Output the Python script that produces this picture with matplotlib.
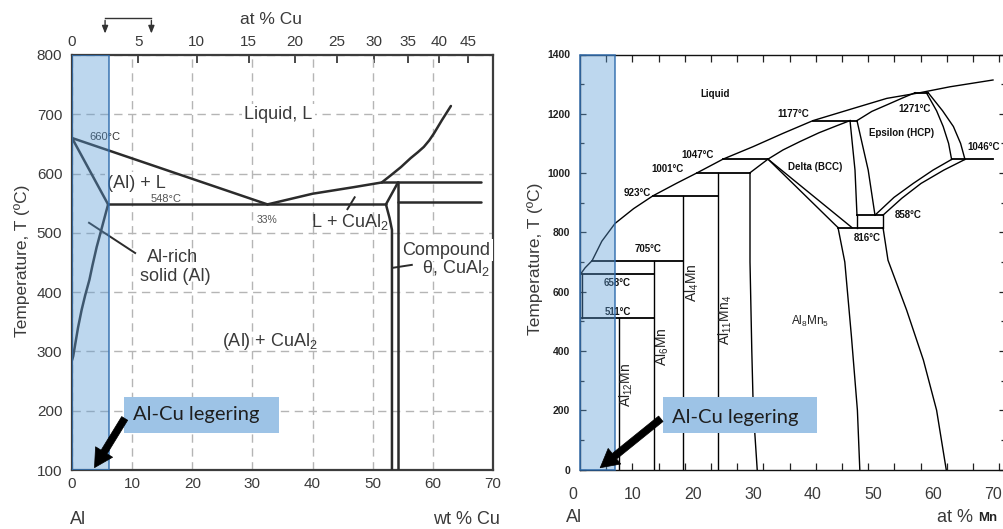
import numpy as np
import matplotlib
matplotlib.use("Agg")
import matplotlib.pyplot as plt
from matplotlib.patches import Rectangle
import matplotlib.transforms as mtransforms

plt.rcParams['font.family'] = ['Liberation Sans', 'DejaVu Sans']
plt.rcParams['mathtext.fontset'] = 'custom'
plt.rcParams['mathtext.rm'] = 'Liberation Sans'
plt.rcParams['mathtext.it'] = 'Liberation Sans:italic'
plt.rcParams['mathtext.bf'] = 'Liberation Sans:bold'

# ================= DATA : Al-Cu (wt % Cu, deg C) =================
cu_liq_left_wt = [0, 32.5]
cu_liq_left_T = [660, 548]
cu_solidus_wt = [0, 6.0]
cu_solidus_T = [660, 548]
cu_solvus_wt = [6.0, 5.0, 4.1, 3.4, 2.9, 2.2, 1.6, 1.0, 0.5, 0.2, 0.0]
cu_solvus_T = [548, 510, 476, 445, 421, 395, 370, 340, 310, 292, 285]
cu_eutectic_wt = [6.0, 52.2]
cu_eutectic_T = [548, 548]
cu_liq_right_wt = [32.5, 40.0, 46.8, 51.5]
cu_liq_right_T = [548, 566, 577, 585]
cu_liq_rise_wt = [51.5, 53.0, 54.7, 56.3, 57.5, 58.5, 59.4, 60.2, 61.5, 63.0]
cu_liq_rise_T = [585, 597, 611, 626, 636, 645, 656, 668, 690, 714]
cu_upper_line_wt = [51.5, 68.0]
cu_upper_line_T = [585, 585]
cu_lower_line_wt = [54.2, 68.0]
cu_lower_line_T = [552, 552]
cu_theta_left_wt = [54.2, 52.2, 52.8, 53.2, 53.2]
cu_theta_left_T = [585, 548, 525, 505, 100]
cu_theta_right_wt = [54.2, 54.2]
cu_theta_right_T = [585, 100]
cu_band_wt = 6.2
cu_top_ticks_at = [0, 5, 10, 15, 20, 25, 30, 35, 40, 45]
cu_xticks = [0, 10, 20, 30, 40, 50, 60, 70]
cu_yticks = [100, 200, 300, 400, 500, 600, 700, 800]

# ================= DATA : Al-Mn (axis label units, deg C) =================
mn_liq_x = [1.3, 2.0, 3.2, 4.8, 7.0, 10.1, 13.3, 17.3, 20.7, 25.0, 30.0, 35.0,
            40.0, 46.7, 52.3, 57.8, 62.8, 70.0]
mn_liq_T = [660, 680, 705, 770, 830, 880, 923, 966, 1001, 1047, 1089, 1134,
            1177, 1218, 1252, 1271, 1291, 1314]
iso_T = [658, 511, 705, 923, 1001, 1047, 1177, 1271, 1046, 858, 816]
iso_x0 = [1.5, 1.5, 3.2, 13.33, 20.67, 25.0, 40.0, 57.0, 63.1, 47.33, 44.17]
iso_x1 = [13.5, 13.5, 18.33, 24.17, 29.5, 32.5, 47.33, 59.2, 70.0, 51.67, 51.67]
comp_x = [1.5, 7.67, 13.5, 18.33, 24.17]
comp_Ttop = [658, 511, 705, 923, 1001]
comp_Tbot = [511, 0, 0, 0, 0]
mn_curves = {
    'al8mn5_left': ([29.5, 29.5, 29.8, 30.05, 30.7], [1001, 700, 400, 200, 0]),
    'link': ([29.5, 32.5], [1001, 1047]),
    'delta_top': ([32.5, 35.0, 37.8, 41.0, 44.0, 46.17], [1047, 1078, 1106, 1136, 1160, 1177]),
    'delta_right': ([46.17, 46.6, 47.0, 47.33], [1177, 1090, 1010, 858]),
    'eps_left': ([47.33, 48.3, 49.2, 50.33], [1177, 1090, 1010, 858]),
    'delta_low1': ([32.5, 44.17], [1047, 816]),
    'delta_low2': ([32.5, 46.5], [1047, 816]),
    'box_l': ([47.33, 47.33], [858, 816]),
    'box_r': ([51.67, 51.67], [858, 816]),
    'al8mn5_right': ([44.17, 45.3, 46.4, 47.4, 47.8], [816, 700, 450, 200, 0]),
    'gamma': ([51.67, 52.5, 55.6, 58.4, 60.6, 62.2], [816, 706, 538, 369, 200, 0]),
    'eps_low1': ([50.33, 53.5, 56.7, 60.0, 63.1], [858, 918, 965, 1010, 1046]),
    'eps_low2': ([51.67, 54.8, 58.0, 61.8, 65.33], [858, 915, 965, 1010, 1046]),
    'eps_top': ([47.33, 49.8, 52.3, 55.0, 57.0], [1177, 1208, 1230, 1254, 1271]),
    'eps_right1': ([58.9, 60.6, 61.7, 62.6, 63.1], [1271, 1210, 1157, 1100, 1046]),
    'eps_right2': ([59.2, 61.6, 63.4, 64.6, 65.33], [1271, 1210, 1157, 1100, 1046]),
}
mn_band_x = 7.0
mn_xlabels = [0, 10, 20, 30, 40, 50, 60, 70]
mn_yticks = [0, 200, 400, 600, 800, 1000, 1200, 1400]

# ================= FIGURE =================
W, H = 1004, 529
fig = plt.figure(figsize=(W / 100, H / 100), dpi=100)

def fpx(x, y):
    return x / W, 1 - y / H

TXT = '#3a3a3a'
LINE = '#2b2b2b'
BAND_FC = (0.357, 0.608, 0.835, 0.40)
BAND_EC = (0.18, 0.42, 0.68, 0.85)
BOX_FC = '#9dc3e6'

# ---------------- LEFT : Al-Cu ----------------
ax = fig.add_axes([72 / W, 1 - 470 / H, 421 / W, 415 / H])
ax.set_xlim(0, 70)
ax.set_ylim(100, 800)
ax.set_xticks(cu_xticks)
ax.set_yticks(cu_yticks)
ax.tick_params(length=0, labelsize=11, colors=TXT)
ax.tick_params(axis='x', pad=5)
ax.tick_params(axis='y', pad=7)
ax.grid(True, color='#b5b5b5', lw=1.0, ls=(0, (6, 4)))
ax.set_axisbelow(True)
for s in ax.spines.values():
    s.set_color('#3c3c3c')
    s.set_linewidth(1.6)

lw = 1.8
for xs, ts in [(cu_liq_left_wt, cu_liq_left_T), (cu_solidus_wt, cu_solidus_T),
               (cu_solvus_wt, cu_solvus_T), (cu_eutectic_wt, cu_eutectic_T),
               (cu_liq_right_wt, cu_liq_right_T), (cu_liq_rise_wt, cu_liq_rise_T),
               (cu_upper_line_wt, cu_upper_line_T), (cu_lower_line_wt, cu_lower_line_T),
               (cu_theta_left_wt, cu_theta_left_T), (cu_theta_right_wt, cu_theta_right_T)]:
    ax.plot(xs, ts, color=LINE, lw=lw, zorder=3, solid_capstyle='round', solid_joinstyle='round')

# leader lines
ax.plot([2.83, 10.5], [517, 466], color=LINE, lw=1.4, zorder=3)
ax.plot([45.8, 47.0], [540, 560], color=LINE, lw=1.4, zorder=3)
ax.plot([53.3, 56.5], [441, 446], color=LINE, lw=1.4, zorder=3)

wb = dict(facecolor='white', edgecolor='none', pad=1.5)
ax.text(34.3, 699, 'Liquid, L', fontsize=13, color=TXT, ha='center', va='center', bbox=wb, zorder=4)
ax.text(5.4, 662, '660°C', fontsize=8, color='#333', ha='center', va='center', zorder=4)
ax.text(10.7, 584, '(Al) + L', fontsize=13, color=TXT, ha='center', va='center', bbox=wb, zorder=4)
ax.text(15.7, 557, '548°C', fontsize=8, color='#555', ha='center', va='center', zorder=4)
ax.text(32.5, 522, '33%', fontsize=7.5, color='#555', ha='center', va='center', zorder=4)
ax.text(46.3, 518, 'L + CuAl$_2$', fontsize=13, color=TXT, ha='center', va='center', zorder=4)
ax.text(12.5, 459, 'Al-rich', fontsize=13, color=TXT, ha='left', va='center', zorder=4)
ax.text(11.3, 426, 'solid (Al)', fontsize=13, color=TXT, ha='left', va='center', zorder=4)
ax.text(69.6, 471, 'Compound', fontsize=13, color=TXT, ha='right', va='center', bbox=wb, zorder=4)
ax.text(69.4, 441, 'θ, CuAl$_2$', fontsize=13, color=TXT, ha='right', va='center', zorder=4)
ax.text(33.0, 316, '(Al) + CuAl$_2$', fontsize=13, color=TXT, ha='center', va='center', zorder=4)

ax.add_patch(Rectangle((0, 100), cu_band_wt, 700, facecolor=BAND_FC, edgecolor=BAND_EC, lw=1.2, zorder=5))
ax.add_patch(Rectangle((8.67, 163), 34.5 - 8.67, 223 - 163, facecolor=BOX_FC, edgecolor='none', zorder=6))
ax.text(10.2, 193, 'Al-Cu legering', fontsize=14.5, family='Lato', color='#1e1e1e',
        ha='left', va='center', zorder=7)
ax.annotate('', xy=(3.5, 100), xytext=(9.0, 191),
            arrowprops=dict(arrowstyle='simple,head_width=1.2,head_length=1.1,tail_width=0.42',
                            mutation_scale=12, fc='black', ec='black', lw=0.5),
            annotation_clip=False, zorder=8)

# top at% Cu axis
M_CU, M_AL = 63.55, 26.98

def wt2at(w):
    w = np.asarray(w, dtype=float)
    w = np.clip(w, 0.0, 99.999)
    a = (w / M_CU) / (w / M_CU + (100 - w) / M_AL)
    return a * 100

def at2wt(a):
    a = np.asarray(a, dtype=float)
    a = np.clip(a, 0.0, 99.999)
    w = a * M_CU / (a * M_CU + (100 - a) * M_AL)
    return w * 100

sec = ax.secondary_xaxis('top', functions=(wt2at, at2wt))
sec.set_xticks(cu_top_ticks_at)
sec.tick_params(direction='in', length=6, width=1.3, colors=TXT, labelsize=11, pad=4)
sec.spines['top'].set_visible(False)

# bracket above top axis
bt = mtransforms.blended_transform_factory(ax.transData, ax.transAxes)
ax.plot([5.5, 13.2], [1.089, 1.089], transform=bt, color='#333', lw=1.0, clip_on=False)
for bx in (5.5, 13.2):
    ax.annotate('', xy=(bx, 1.045), xytext=(bx, 1.090), xycoords=bt, textcoords=bt,
                arrowprops=dict(arrowstyle='-|>,head_width=0.18,head_length=0.45',
                                color='#333', lw=1.0), annotation_clip=False)

fig.text(*fpx(271, 20), 'at % Cu', fontsize=12.5, color=TXT, ha='center', va='center')
fig.text(*fpx(22, 261), 'Temperature, T (ºC)', fontsize=12.5, color=TXT, rotation=90,
         ha='center', va='center')
fig.text(*fpx(70, 519), 'Al', fontsize=13, color=TXT, ha='left', va='center')
fig.text(*fpx(433, 519), 'wt % Cu', fontsize=13, color=TXT, ha='left', va='center')

# ---------------- RIGHT : Al-Mn ----------------
ax2 = fig.add_axes([580 / W, 1 - 469.5 / H, 425 / W, 415 / H])
ax2.set_xlim(7 / 6, 72.0)
ax2.set_ylim(0, 1400)
native_ticks = [7 / 6 + k * 26.2 / 6 for k in range(1, 17)]
ax2.set_xticks(native_ticks)
ax2.set_xticklabels([])
ax2.tick_params(axis='x', direction='in', length=5, width=0.9, top=True, bottom=True, colors='#222')
ax2.set_yticks(mn_yticks)
ax2.set_yticks(list(range(100, 1400, 200)), minor=True)
ax2.tick_params(axis='y', which='major', direction='in', length=4, width=0.9,
                left=True, right=True, labelsize=7.5, colors='#222', pad=7)
ax2.tick_params(axis='y', which='minor', direction='in', length=3, width=0.9,
                left=True, right=True, colors='#222')
for lbl in ax2.get_yticklabels():
    lbl.set_fontweight('bold')
for s in ax2.spines.values():
    s.set_color('#111')
    s.set_linewidth(1.0)

mlw = 1.0
ax2.plot(mn_liq_x, mn_liq_T, color='black', lw=mlw, zorder=3)
for T, x0, x1 in zip(iso_T, iso_x0, iso_x1):
    ax2.plot([x0, x1], [T, T], color='black', lw=mlw * 1.3, zorder=3)
for x, t1, t0 in zip(comp_x, comp_Ttop, comp_Tbot):
    ax2.plot([x, x], [t1, t0], color='black', lw=mlw, zorder=3)
for name, (xs, ts) in mn_curves.items():
    ax2.plot(xs, ts, color='black', lw=mlw, zorder=3)

bkw = dict(fontsize=7, fontweight='bold', color='#111', ha='center', va='center', zorder=4)
ax2.text(23.67, 1267, 'Liquid', **bkw)
ax2.text(36.67, 1199, '1177°C', **bkw)
ax2.text(57.0, 1216, '1271°C', **bkw)
ax2.text(54.83, 1135, 'Epsilon (HCP)', **bkw)
ax2.text(65.67, 1088, '1046°C', **{**bkw, 'ha': 'left'})
ax2.text(20.83, 1061, '1047°C', **bkw)
ax2.text(15.67, 1014, '1001°C', **bkw)
ax2.text(40.33, 1020, 'Delta (BCC)', **bkw)
ax2.text(10.67, 933, '923°C', **bkw)
ax2.text(55.83, 859, '858°C', **bkw)
ax2.text(49.0, 781, '816°C', **bkw)
ax2.text(12.5, 744, '705°C', **bkw)
ax2.text(7.33, 629, '658°C', **bkw)
ax2.text(7.5, 531, '511°C', **bkw)

pkw = dict(fontsize=10, color='#222', ha='center', va='center', rotation=90, zorder=4)
ax2.text(19.83, 629, 'Al$_4$Mn', **pkw)
ax2.text(25.33, 504, 'Al$_{11}$Mn$_4$', **pkw)
ax2.text(14.83, 413, 'Al$_6$Mn', **pkw)
ax2.text(8.83, 285, 'Al$_{12}$Mn', **pkw)
ax2.text(39.5, 498, 'Al$_8$Mn$_5$', fontsize=8.5, color='#222', ha='center', va='center', zorder=4)

ax2.add_patch(Rectangle((7 / 6, 0), mn_band_x - 7 / 6, 1400, facecolor=BAND_FC,
                        edgecolor=BAND_EC, lw=1.2, zorder=5, clip_on=False))
ax2.add_patch(Rectangle((15.0, 123), 40.67 - 15.0, 245 - 123, facecolor=BOX_FC, edgecolor='none', zorder=6))
ax2.text(16.5, 177, 'Al-Cu legering', fontsize=14.5, family='Lato', color='#1e1e1e',
         ha='left', va='center', zorder=7)
ax2.annotate('', xy=(4.17, 0), xytext=(15.0, 177),
             arrowprops=dict(arrowstyle='simple,head_width=1.2,head_length=1.1,tail_width=0.42',
                             mutation_scale=12, fc='black', ec='black', lw=0.5),
             annotation_clip=False, zorder=8)

bt2 = mtransforms.blended_transform_factory(ax2.transData, ax2.transAxes)
for v in mn_xlabels:
    ax2.text(v, -0.0614, str(v), transform=bt2, fontsize=11.5, color=TXT,
             ha='center', va='center', clip_on=False)

fig.text(*fpx(535, 259), 'Temperature, T (ºC)', fontsize=12.5, color=TXT, rotation=90,
         ha='center', va='center')
fig.text(*fpx(566, 518), 'Al', fontsize=13, color=TXT, ha='left', va='center')
fig.text(*fpx(937, 517), 'at %', fontsize=13, color=TXT, ha='left', va='center')
fig.text(*fpx(978, 518), 'Mn', fontsize=9.5, fontweight='bold', color='#222', ha='left', va='center')

fig.savefig('out.png', dpi=100)
